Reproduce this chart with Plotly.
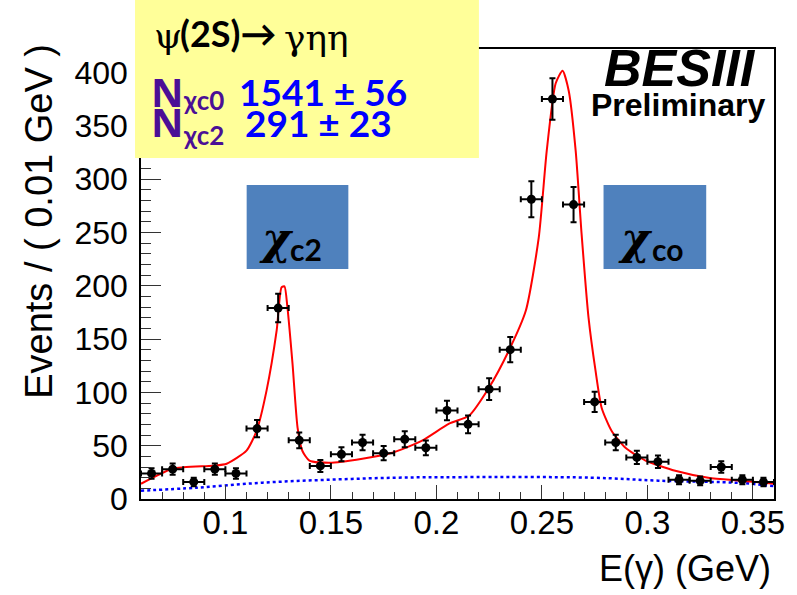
import plotly.graph_objects as go

# ---- measured spectrum: 0.01 GeV bins from 0.06 to 0.36 GeV ----
bin_centers = [0.065, 0.075, 0.085, 0.095, 0.105, 0.115, 0.125, 0.135, 0.145, 0.155,
               0.165, 0.175, 0.185, 0.195, 0.205, 0.215, 0.225, 0.235, 0.245, 0.255,
               0.265, 0.275, 0.285, 0.295, 0.305, 0.315, 0.325, 0.335, 0.345, 0.355]
counts = [24, 28, 16, 28, 24, 66, 179, 55, 31, 42,
          53, 43, 56, 48, 83, 70, 103, 140, 281, 375,
          276, 91, 53, 39, 35, 18, 17, 30, 18, 16]
count_errors = [4.9, 5.3, 4.0, 5.3, 4.9, 8.1, 13.4, 7.4, 5.6, 6.5,
                7.3, 6.6, 7.5, 6.9, 9.1, 8.4, 10.1, 11.8, 16.8, 19.4,
                16.6, 9.5, 7.3, 6.2, 5.9, 4.2, 4.1, 5.5, 4.2, 4.0]
bin_half_width = 0.005

# ---- total fit curve ----
fit_x = [0.060, 0.075, 0.094, 0.1006, 0.110, 0.1148, 0.1195, 0.1243, 0.1266, 0.128,
         0.1294, 0.1318, 0.1342, 0.1365, 0.1398, 0.1493, 0.1649, 0.1791, 0.1932, 0.206,
         0.2154, 0.2249, 0.2343, 0.2424, 0.2485, 0.2523, 0.2565, 0.2598, 0.2627, 0.266,
         0.2688, 0.2721, 0.2754, 0.2783, 0.283, 0.2896, 0.2991, 0.3132, 0.3288, 0.3444, 0.360]
fit_y = [14.3, 28.4, 31.2, 33.1, 45.3, 64.0, 101.6, 158.0, 198.5, 199.4,
         179.7, 127.0, 67.0, 45.0, 36.0, 34.0, 37.8, 43.4, 54.7, 70.6,
         78.0, 104.3, 139.0, 176.7, 245.0, 326.6, 389.5, 401.6, 382.8, 326.6,
         248.8, 170.0, 120.5, 85.6, 64.0, 48.0, 36.0, 26.5, 20.0, 17.2, 14.3]

# ---- background component ----
bkg_x = [0.060, 0.0865, 0.1176, 0.1493, 0.181, 0.212, 0.2735, 0.3052, 0.3444, 0.360]
bkg_y = [7.8, 10.6, 15.3, 18.1, 20.0, 20.5, 20.0, 17.2, 15.0, 12.0]

x_tick_vals = [0.1, 0.15, 0.2, 0.25, 0.3, 0.35]
x_tick_text = ["0.1", "0.15", "0.2", "0.25", "0.3", "0.35"]
y_tick_vals = [0, 50, 100, 150, 200, 250, 300, 350, 400]

W, H = 797, 595
L, R, T, B = 141, 776, 49, 499   # plot frame in page pixels


def px(x):
    return (x - L) / (R - L)


def py(y):
    return (B - y) / (B - T)


fig = go.Figure()

fig.add_trace(go.Scatter(
    x=bkg_x, y=bkg_y, mode="lines", line_shape="spline",
    line=dict(color="#0000ff", width=2.5, dash="dot"), hoverinfo="skip"))

fig.add_trace(go.Scatter(
    x=fit_x, y=fit_y, mode="lines", line_shape="spline",
    line=dict(color="#ff0000", width=2, smoothing=0.6), hoverinfo="skip"))

fig.add_trace(go.Scatter(
    x=bin_centers, y=counts, mode="markers",
    marker=dict(color="black", size=9),
    error_y=dict(type="data", array=count_errors, color="black", thickness=2, width=3),
    error_x=dict(type="constant", value=bin_half_width, color="black", thickness=2, width=3)))

arial = "Liberation Sans, Arial, sans-serif"
axis_font = dict(family=arial, size=32, color="black")

fig.update_layout(
    width=W, height=H,
    margin=dict(l=L, r=W - R, t=T, b=H - B, pad=0),
    paper_bgcolor="white", plot_bgcolor="white",
    showlegend=False,
    xaxis=dict(
        range=[0.06, 0.36], tickvals=x_tick_vals, ticktext=x_tick_text,
        ticks="inside", ticklen=14, tickwidth=1, tickcolor="#333",
        minor=dict(ticks="inside", ticklen=7, dtick=0.01, tick0=0.06, tickcolor="#333", tickwidth=1),
        showline=True, linecolor="black", linewidth=1.5, mirror=True,
        showgrid=False, zeroline=False, tickfont=dict(axis_font, size=33),
        ticklabelstandoff=-6),
    yaxis=dict(
        range=[0, 421.9], tickvals=y_tick_vals,
        ticks="inside", ticklen=20, tickwidth=1, tickcolor="#333",
        minor=dict(ticks="inside", ticklen=10, dtick=10, tickcolor="#333", tickwidth=1),
        showline=True, linecolor="black", linewidth=1.5, mirror=True,
        showgrid=False, zeroline=False, tickfont=axis_font,
        ticklabelstandoff=5),
)

shapes = [
    # yellow info panel
    dict(type="rect", xref="paper", yref="paper", layer="above",
         x0=px(135), x1=px(480), y0=py(158), y1=py(0),
         fillcolor="#ffff99", line=dict(width=0)),
    # peak label tags
    dict(type="rect", xref="paper", yref="paper", layer="above",
         x0=px(247), x1=px(349), y0=py(269), y1=py(185),
         fillcolor="#4f81bd", line=dict(width=0)),
    dict(type="rect", xref="paper", yref="paper", layer="above",
         x0=px(605), x1=px(708), y0=py(269), y1=py(185),
         fillcolor="#4f81bd", line=dict(width=0)),
]
fig.update_layout(shapes=shapes)

sans = "Lato, Noto Sans, DejaVu Sans, sans-serif"
bold_sans = "Noto Sans, DejaVu Sans, sans-serif"
serif = "DejaVu Serif, Liberation Serif, serif"
purple = "#4b0f96"
blue = "#0000ff"


def ann(text, x, y, size, color="black", family=sans, xanchor="left", yanchor="middle", angle=0):
    fig.add_annotation(text=text, xref="paper", yref="paper", x=px(x), y=py(y),
                       xanchor=xanchor, yanchor=yanchor, showarrow=False, textangle=angle,
                       font=dict(family=family, size=size, color=color))


# decay channel and fitted yields
ann("ψ", 152, 35, 36, family=serif)
ann("<b>(2S)→</b>", 178, 33, 36)
ann("γηη", 282, 38, 36, family=serif)
ann("<b>N</b>", 149, 92, 40, purple, family=bold_sans)
ann("<b>χc0</b>", 181, 100, 26, purple)
ann("<b>1541 ± 56</b>", 237, 91, 37, blue)
ann("<b>N</b>", 149, 121, 40, purple, family=bold_sans)
ann("<b>χc2</b>", 181, 135, 26, purple)
ann("<b>291 ± 23</b>", 243, 122, 37, blue)

# peak tags
ann("<b><i>χ</i></b>", 277, 238, 44, family=serif, xanchor="center")
ann("<b>c2</b>", 307, 249, 30, xanchor="center")
ann("<b><i>χ</i></b>", 637, 238, 44, family=serif, xanchor="center")
ann("<b>co</b>", 669, 249, 30, xanchor="center")

ann("<b><i>BESIII</i></b>", 760, 68, 52, family=arial, xanchor="right")
ann("<b>Preliminary</b>", 770, 105, 32, family=arial, xanchor="right")

ann("E(γ) (GeV)", 775, 568, 36, family=arial, xanchor="right")
ann("Events / ( 0.01 GeV )", 38, 42, 38, family=arial,
    xanchor="center", yanchor="top", angle=-90)

fig.write_html("out.html")
